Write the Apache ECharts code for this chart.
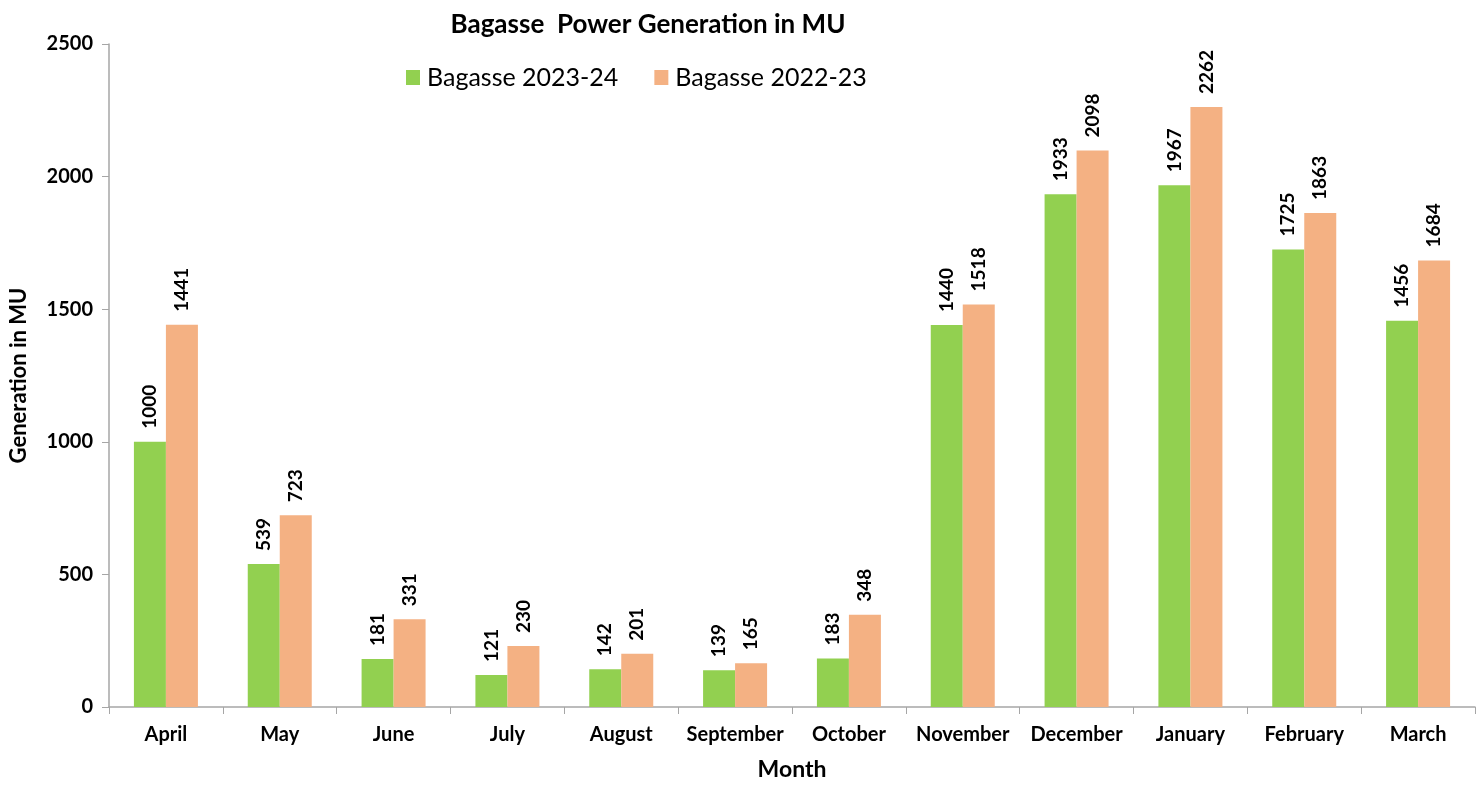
<!DOCTYPE html>
<html>
<head>
<meta charset="utf-8">
<script src="https://cdn.jsdelivr.net/npm/echarts@6/dist/echarts.min.js"></script>
<style>
  html, body { margin: 0; padding: 0; background: #fff; }
  #chart { width: 1482px; height: 786px; }
</style>
</head>
<body>
<div id="chart"></div>
<script>
var months = ['April', 'May', 'June', 'July', 'August', 'September', 'October', 'November', 'December', 'January', 'February', 'March'];
var bagasse2324 = [1000, 539, 181, 121, 142, 139, 183, 1440, 1933, 1967, 1725, 1456];
var bagasse2223 = [1441, 723, 331, 230, 201, 165, 348, 1518, 2098, 2262, 1863, 1684];

var font = 'Lato, "Open Sans", sans-serif';
var chart = echarts.init(document.getElementById('chart'));

// rotated value labels above the bars
function barLabel() {
  return {
    show: true,
    position: 'top',
    rotate: 90,
    align: 'left',
    verticalAlign: 'middle',
    distance: 13,
    color: '#000',
    fontFamily: font,
    fontWeight: 'bold',
    fontSize: 19
  };
}

chart.setOption({
  animation: false,
  title: {
    text: 'Bagasse  Power Generation in MU',
    left: 643,
    textAlign: 'center',
    top: 7,
    textStyle: { fontFamily: font, fontWeight: 'bold', fontSize: 26, color: '#000' }
  },
  legend: {
    top: 60,
    left: 401,
    itemWidth: 14,
    itemHeight: 15,
    itemGap: 36,
    icon: 'rect',
    textStyle: { fontFamily: font, fontSize: 25, color: '#000', padding: [0, 0, 0, 2] }
  },
  grid: { left: 107, right: 7, top: 44, bottom: 78 },
  xAxis: {
    type: 'category',
    data: months,
    name: 'Month',
    nameLocation: 'middle',
    nameGap: 51,
    nameTextStyle: { fontFamily: font, fontWeight: 'bold', fontSize: 23, color: '#000' },
    axisLine: { lineStyle: { color: '#a6a6a6', width: 1.5 } },
    axisTick: { show: true, interval: 0, length: 7, lineStyle: { color: '#a6a6a6' } },
    axisLabel: { interval: 0, fontFamily: font, fontWeight: 'bold', fontSize: 20, color: '#000', margin: 18 }
  },
  yAxis: {
    type: 'value',
    min: 0,
    max: 2500,
    interval: 500,
    name: 'Generation in MU',
    nameLocation: 'middle',
    nameGap: 79,
    nameTextStyle: { fontFamily: font, fontWeight: 'bold', fontSize: 22, color: '#000' },
    splitLine: { show: false },
    axisLine: { show: true, lineStyle: { color: '#a6a6a6', width: 1.5 } },
    axisTick: { show: true, length: 7, lineStyle: { color: '#a6a6a6' } },
    axisLabel: {
      fontFamily: font, fontWeight: 'bold', fontSize: 20, color: '#000', margin: 16,
      formatter: function (v) { return String(v); }
    }
  },
  series: [
    {
      name: 'Bagasse 2023-24',
      type: 'bar',
      data: bagasse2324,
      itemStyle: { color: '#92D050' },
      barWidth: 32,
      barGap: '0%',
      label: barLabel()
    },
    {
      name: 'Bagasse 2022-23',
      type: 'bar',
      data: bagasse2223,
      itemStyle: { color: '#F4B183' },
      barWidth: 32,
      label: barLabel()
    }
  ]
});
</script>
</body>
</html>
